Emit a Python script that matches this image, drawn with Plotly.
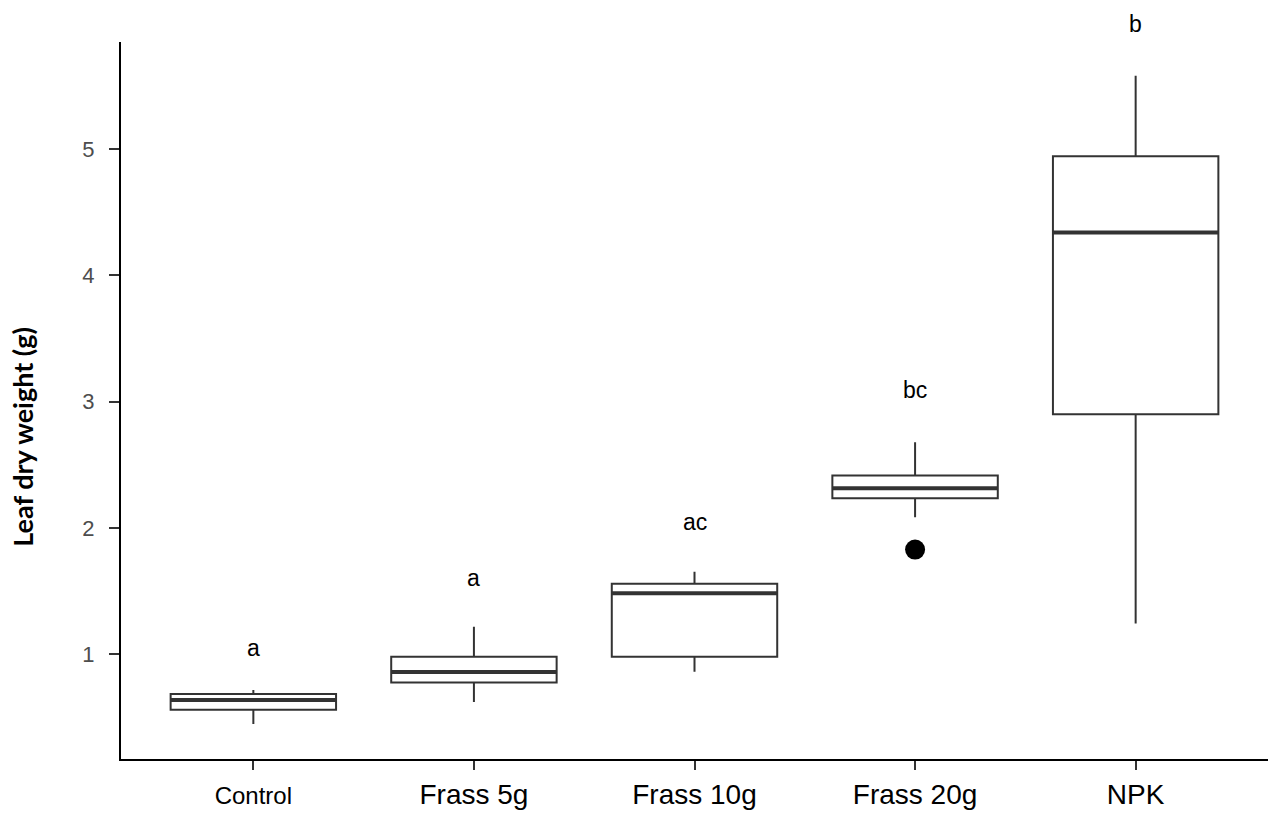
import plotly.graph_objects as go

# Treatment groups and their box-plot summaries (leaf dry weight, g)
groups = ["Control", "Frass 5g", "Frass 10g", "Frass 20g", "NPK"]
lower_whisker = [0.448, 0.622, 0.861, 2.083, 1.242]
q1 = [0.559, 0.775, 0.980, 2.235, 2.900]
median = [0.637, 0.858, 1.482, 2.314, 4.338]
q3 = [0.685, 0.980, 1.557, 2.414, 4.942]
upper_whisker = [0.716, 1.216, 1.652, 2.677, 5.578]

# Outlying observation
outlier_group = ["Frass 20g"]
outlier_value = [1.828]

# Significance letters and the height they sit at
letters = ["a", "a", "ac", "bc", "b"]
letter_y = [1.05, 1.60, 2.05, 3.09, 5.99]

y_ticks = [1, 2, 3, 4, 5]
y_range = [0.17, 5.846]

pos = list(range(1, len(groups) + 1))
box_w = 0.75
line_col = "#333333"

fig = go.Figure()

fig.add_trace(go.Box(
    x=pos,
    q1=q1, median=median, q3=q3,
    lowerfence=lower_whisker, upperfence=upper_whisker,
    width=box_w,
    whiskerwidth=0,
    fillcolor="white",
    line=dict(color=line_col, width=2),
    boxpoints=False,
    hoverinfo="skip",
    showlegend=False,
))

# Thicker median bars drawn over each box
mx, my = [], []
for p, m in zip(pos, median):
    mx += [p - box_w / 2, p + box_w / 2, None]
    my += [m, m, None]
fig.add_trace(go.Scatter(
    x=mx, y=my, mode="lines",
    line=dict(color=line_col, width=4),
    hoverinfo="skip", showlegend=False,
))

fig.add_trace(go.Scatter(
    x=[groups.index(g) + 1 for g in outlier_group], y=outlier_value,
    mode="markers",
    marker=dict(color="black", size=20),
    hoverinfo="skip", showlegend=False,
))

# Group letters; placed on the y domain so the top one may sit above the axis
for p, t, ly in zip(pos, letters, letter_y):
    fig.add_annotation(
        x=p, xref="x",
        y=(ly - y_range[0]) / (y_range[1] - y_range[0]), yref="y domain",
        xanchor="center", yanchor="middle",
        text=t, showarrow=False,
        font=dict(family="Liberation Sans, Arial", size=23, color="black"),
    )

tick_text = [
    f"<span style='font-size:24px'>{g}</span>" if g == "Control" else g
    for g in groups
]

fig.add_annotation(
    text="<b>Leaf dry weight (g)</b>", textangle=-90,
    xref="paper", yref="paper", x=-0.086, y=0.45,
    xanchor="center", yanchor="middle", showarrow=False,
    font=dict(family="Lato, Open Sans", size=27, color="black"),
)

fig.update_layout(
    width=1272, height=814,
    margin=dict(l=121, r=4, t=42, b=52),
    paper_bgcolor="white", plot_bgcolor="white",
    font=dict(family="Liberation Sans, Arial", color="black"),
    xaxis=dict(
        range=[0.4, 5.6],
        tickvals=pos, ticktext=tick_text,
        tickfont=dict(size=28, color="black"),
        showline=True, linecolor="black", linewidth=2,
        ticks="outside", ticklen=9, tickwidth=1.5, tickcolor=line_col,
        showgrid=False, zeroline=False,
    ),
    yaxis=dict(
        range=y_range,
        tickvals=y_ticks, ticktext=[str(v) for v in y_ticks],
        tickfont=dict(size=22, color="#4d4d4d"),
        ticklabelstandoff=10,
        showline=True, linecolor="black", linewidth=2,
        ticks="outside", ticklen=10, tickwidth=1.5, tickcolor=line_col,
        showgrid=False, zeroline=False,
    ),
)

fig.write_html("out.html")
